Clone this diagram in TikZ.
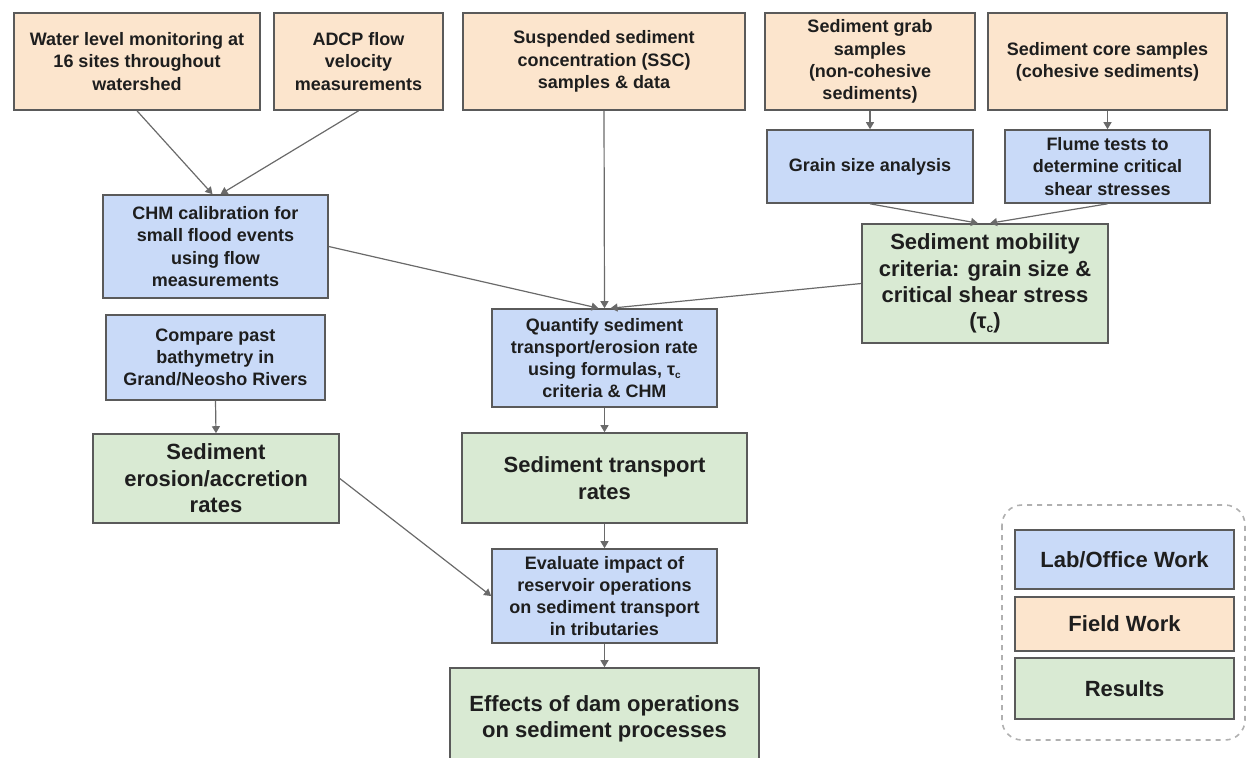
\documentclass[tikz,border=0pt]{standalone}
\usepackage{fontspec}
\setmainfont{Liberation Sans}
\usetikzlibrary{arrows.meta,calc}
\definecolor{labfill}{HTML}{C9DAF8}
\definecolor{fieldfill}{HTML}{FCE5CD}
\definecolor{resfill}{HTML}{D9EAD3}
\definecolor{boxline}{HTML}{5A5A5A}
\definecolor{arrowcol}{HTML}{6A6A6A}
\definecolor{txt}{HTML}{1E1E1E}
\definecolor{legline}{HTML}{B0B0B0}
\newcommand\bxnode[7]{%
  \node[#1, minimum width={(#5-#3)*0.5pt}, minimum height={(#6-#4)*0.5pt}] (#2)
    at ({(#3+#5)/2},{(#4+#6)/2}) {#7};}
\tikzset{
  basebox/.style={draw=boxline, line width=0.8pt, inner sep=0pt, align=center,
    text=txt, font=\bfseries\fontsize{9}{11.1}\selectfont},
  lab/.style={basebox, fill=labfill},
  field/.style={basebox, fill=fieldfill},
  res/.style={basebox, fill=resfill, font=\bfseries\fontsize{11}{13.2}\selectfont},
  bigtext/.style={font=\bfseries\fontsize{11}{13.2}\selectfont},
  arr/.style={draw=arrowcol, line width=0.6pt, -{Triangle[width=4pt,length=3.5pt]}},
}
\begin{document}
\begin{tikzpicture}[x=0.5pt,y=-0.5pt]
\useasboundingbox (0,0) rectangle (1248,757);
% field work
\bxnode{field}{water}{14}{13}{260}{110}{Water level monitoring at\\16 sites throughout\\watershed}
\bxnode{field}{adcp}{274}{13}{443}{110}{ADCP flow\\velocity\\measurements}
\bxnode{field}{ssc}{463}{13}{745}{110}{Suspended sediment\\concentration (SSC)\\samples \& data}
\bxnode{field}{grab}{765}{13}{975}{110}{Sediment grab\\samples\\(non-cohesive\\sediments)}
\bxnode{field}{core}{988}{13}{1227}{110}{Sediment core samples\\(cohesive sediments)}
% lab work
\bxnode{lab}{grain}{767}{130}{973}{203}{Grain size analysis}
\bxnode{lab}{flume}{1005}{130}{1210}{203}{Flume tests to\\determine critical\\shear stresses}
\bxnode{lab}{chm}{103}{195}{328}{298}{CHM calibration for\\small flood events\\using flow\\measurements}
\bxnode{lab}{compare}{106}{315}{325}{400}{Compare past\\bathymetry in\\Grand/Neosho Rivers}
\bxnode{lab}{quantify}{492}{309}{717}{407}{Quantify sediment\\transport/erosion rate\\using formulas, τ\raisebox{-0.35ex}{\fontsize{5}{6}\selectfont c}\\criteria \& CHM}
\bxnode{lab}{evaluate}{492}{549}{717}{643}{Evaluate impact of\\reservoir operations\\on sediment transport\\in tributaries}
% results
\bxnode{res}{mob}{862}{224}{1108}{343}{Sediment mobility\\criteria: grain size \&\\critical shear stress\\(τ\raisebox{-0.35ex}{\fontsize{6}{7}\selectfont c})}
\bxnode{res}{erosion}{93}{434}{339}{523}{Sediment\\erosion/accretion\\rates}
\bxnode{res}{transport}{462}{433}{747}{523}{Sediment transport\\rates}
\bxnode{res}{effects}{450}{668}{759}{770}{Effects of dam operations\\on sediment processes}
% legend
\draw[legline, line width=0.8pt, dash pattern=on 2.5pt off 2.5pt, rounded corners=10pt] (1002,505) rectangle (1245,740);
\bxnode{lab, bigtext}{leglab}{1015}{530}{1234}{589}{Lab/Office Work}
\bxnode{field, bigtext}{legfield}{1015}{597}{1234}{651}{Field Work}
\bxnode{res}{legres}{1015}{658}{1234}{719}{Results}
% connectors
\draw[arr] (water.south) -- ($(chm.north)+(-3,0)$);
\draw[arr] (adcp.south) -- ($(chm.north)+(5,0)$);
\draw[arr] (grab.south) -- (grain.north);
\draw[arr] (core.south) -- (flume.north);
\draw[arr] (grain.south) -- ($(mob.north)+(-7,0)$);
\draw[arr] (flume.south) -- ($(mob.north)+(5,0)$);
\draw[arr] (chm.east) -- ($(quantify.north)+(-6,0)$);
\draw[arr] (ssc.south) -- (quantify.north);
\draw[arr] (mob.west) -- ($(quantify.north)+(6,0)$);
\draw[arr] (compare.south) -- (erosion.north);
\draw[arr] (quantify.south) -- (transport.north);
\draw[arr] (transport.south) -- (evaluate.north);
\draw[arr] (evaluate.south) -- (effects.north);
\draw[arr] (erosion.east) -- (evaluate.west);
\end{tikzpicture}
\end{document}
